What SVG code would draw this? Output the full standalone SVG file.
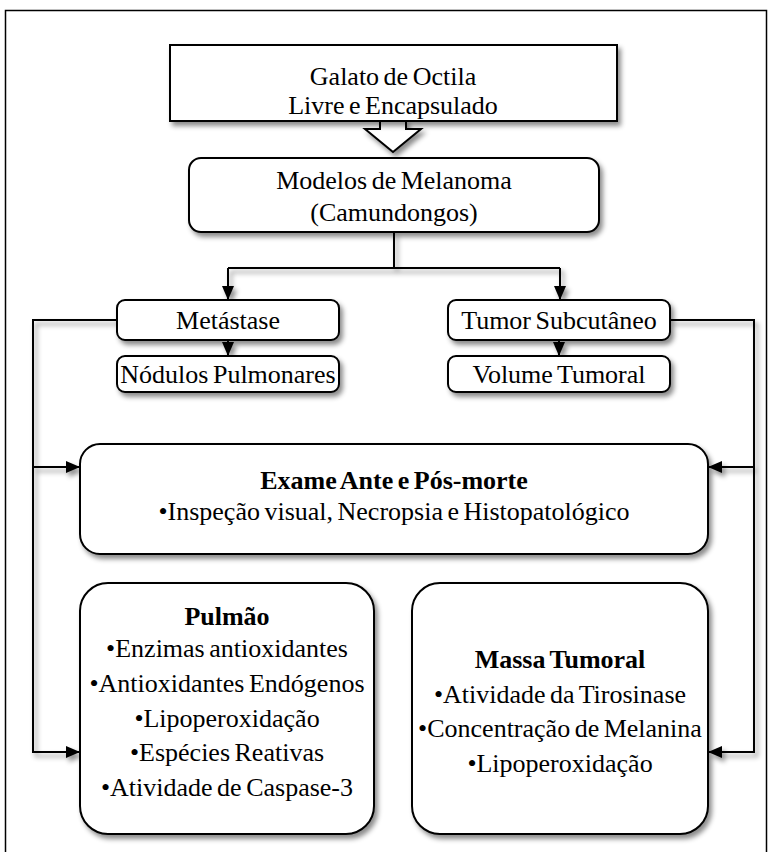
<svg xmlns="http://www.w3.org/2000/svg" width="772" height="852" viewBox="0 0 772 852">
  <defs>
    <filter id="shadow" x="-10%" y="-10%" width="130%" height="140%">
      <feDropShadow dx="3" dy="4" stdDeviation="2.5" flood-color="#000" flood-opacity="0.45"/>
    </filter>
    <marker id="arrow" viewBox="0 0 14 12" refX="14" refY="6" markerWidth="14" markerHeight="12" markerUnits="userSpaceOnUse" orient="auto">
      <path d="M0,0 L14,6 L0,12 Z" fill="#000"/>
    </marker>
  </defs>
  <style>
    .box { fill: #fff; stroke: #000; stroke-width: 2; filter: url(#shadow); }
    .wire { fill: none; stroke: #000; stroke-width: 2; }
    text { font-family: "Liberation Serif", "Times New Roman", "DejaVu Serif", serif; font-size: 26px; fill: #000; text-anchor: middle; word-spacing: -2px; }
    .b { font-weight: bold; }
  </style>

  <!-- page frame -->
  <rect x="5.5" y="10.5" width="761" height="850" fill="#fff" stroke="#000" stroke-width="1.5"/>

  <!-- connectors -->
  <g id="connectors" filter="url(#shadow)">
    <polygon points="380,121 406,121 406,129 421,129 393,152 365,129 380,129" fill="#fff" stroke="#000" stroke-width="2"/>
    <path class="wire" d="M394,232 V268"/>
    <path class="wire" d="M228,268 H560"/>
    <path class="wire" d="M228,268 V300" marker-end="url(#arrow)"/>
    <path class="wire" d="M560,268 V300" marker-end="url(#arrow)"/>
    <path class="wire" d="M228,340 V356" marker-end="url(#arrow)"/>
    <path class="wire" d="M559,340 V356" marker-end="url(#arrow)"/>
    <path class="wire" d="M117,320 H33 V752 H80" marker-end="url(#arrow)"/>
    <path class="wire" d="M33,467 H80" marker-end="url(#arrow)"/>
    <path class="wire" d="M670,320 H754 V752 H708" marker-end="url(#arrow)"/>
    <path class="wire" d="M754,467 H708" marker-end="url(#arrow)"/>
  </g>

  <g id="galato">
    <rect class="box" x="170" y="45" width="447" height="76"/>
    <text x="393" y="85">Galato de Octila</text>
    <text x="393" y="114">Livre e Encapsulado</text>
  </g>

  <g id="modelos">
    <rect class="box" x="189" y="158" width="410" height="74" rx="12"/>
    <text x="394" y="189">Modelos de Melanoma</text>
    <text x="394" y="221">(Camundongos)</text>
  </g>

  <g id="metastase">
    <rect class="box" x="117" y="300" width="222" height="40" rx="8"/>
    <text x="228" y="329">Metástase</text>
  </g>

  <g id="nodulos">
    <rect class="box" x="117" y="356" width="222" height="36" rx="8"/>
    <text x="228" y="383">Nódulos Pulmonares</text>
  </g>

  <g id="tumor">
    <rect class="box" x="448" y="300" width="222" height="40" rx="8"/>
    <text x="559" y="329">Tumor Subcutâneo</text>
  </g>

  <g id="volume">
    <rect class="box" x="448" y="356" width="222" height="36" rx="8"/>
    <text x="559" y="383">Volume Tumoral</text>
  </g>

  <g id="exame">
    <rect class="box" x="80" y="444" width="628" height="110" rx="20"/>
    <text class="b" x="394" y="489">Exame Ante e Pós-morte</text>
    <text x="394" y="520">•Inspeção visual, Necropsia e Histopatológico</text>
  </g>

  <g id="pulmao">
    <rect class="box" x="80" y="583" width="294" height="251" rx="28"/>
    <text class="b" x="227" y="625">Pulmão</text>
    <text x="227" y="657">•Enzimas antioxidantes</text>
    <text x="227" y="692">•Antioxidantes Endógenos</text>
    <text x="227" y="727">•Lipoperoxidação</text>
    <text x="227" y="761">•Espécies Reativas</text>
    <text x="227" y="796">•Atividade de Caspase-3</text>
  </g>

  <g id="massa">
    <rect class="box" x="412" y="583" width="296" height="251" rx="28"/>
    <text class="b" x="560" y="668">Massa Tumoral</text>
    <text x="560" y="703">•Atividade da Tirosinase</text>
    <text x="560" y="737">•Concentração de Melanina</text>
    <text x="560" y="772">•Lipoperoxidação</text>
  </g>
</svg>
